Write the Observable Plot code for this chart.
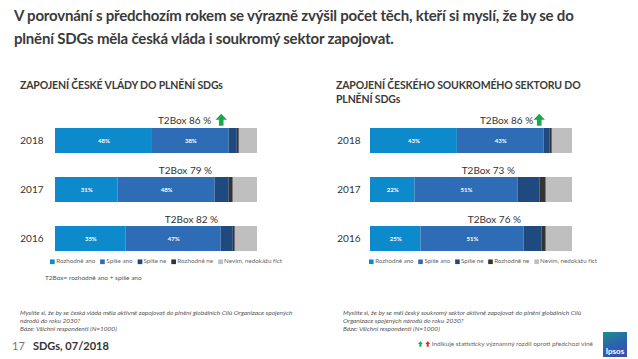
<!DOCTYPE html>
<html>
<head>
<meta charset="utf-8">
<script src="https://cdn.jsdelivr.net/npm/d3@7"></script>
<script src="https://cdn.jsdelivr.net/npm/@observablehq/plot@0.6"></script>
<style>
  html, body { margin: 0; padding: 0; background: #fff; }
  #root { position: relative; width: 638px; height: 359px; overflow: hidden; font-family: Lato, "Open Sans", sans-serif; color: #333; }
  .abs { position: absolute; white-space: nowrap; }
  .title { left: 14px; top: 4px; font-size: 15px; font-weight: bold; line-height: 23px; color: #3a3a3a; letter-spacing: -0.2px; }
  .sec { font-size: 10.5px; font-weight: bold; line-height: 14px; color: #3a3a3a; letter-spacing: -0.15px; }
  .legend { font-size: 8px; color: #666; display: flex; gap: 6px; align-items: center; transform-origin: 0 50%; }
  .legend span.sw { display: inline-block; width: 6px; height: 6px; margin-right: 2px; vertical-align: middle; }
  .note { font-size: 6.5px; font-style: italic; color: #555; line-height: 8.2px; }
</style>
</head>
<body>
<div id="root"></div>
<script>
const years = ["2018", "2017", "2016"];
const categories = ["Rozhodně ano", "Spíše ano", "Spíše ne", "Rozhodně ne", "Nevím, nedokážu říct"];
const colors = ["#0d8acb", "#2e6cb5", "#1f4a80", "#333333", "#bfbfbf"];

// Czech government engagement (rows = years)
const govValues = [
  [48, 38, 4, 1, 9],
  [31, 48, 7, 2, 12],
  [35, 47, 6, 1, 11]
];
const govT2 = [86, 79, 82];
const govUp = [true, false, false];

// Czech private sector engagement
const privValues = [
  [43, 43, 3, 1, 10],
  [22, 51, 11, 3, 13],
  [25, 51, 9, 2, 13]
];
const privT2 = [86, 73, 76];
const privUp = [true, false, false];

const root = document.getElementById("root");
function addDiv(cls, left, top, html) {
  const d = document.createElement("div");
  d.className = "abs " + cls;
  d.style.left = left + "px";
  d.style.top = top + "px";
  d.innerHTML = html;
  root.appendChild(d);
  return d;
}
function fitWidth(d, w) {
  const cur = d.getBoundingClientRect().width;
  if (cur > 0) d.style.transform = `scale(${w / cur})`;
}

addDiv("title", 14, 4, "V porovnání s předchozím rokem se výrazně zvýšil počet těch, kteří si myslí, že by se do<br>plnění SDGs měla česká vláda i soukromý sektor zapojovat.");
addDiv("sec", 20, 78, "ZAPOJENÍ ČESKÉ VLÁDY DO PLNĚNÍ SDGs");
addDiv("sec", 336, 78, "ZAPOJENÍ ČESKÉHO SOUKROMÉHO SEKTORU DO<br>PLNĚNÍ SDGs");

const arrowSymbol = {
  draw(ctx, size) {
    const s = Math.sqrt(size);
    ctx.moveTo(0, -0.55 * s);
    ctx.lineTo(0.5 * s, -0.02 * s);
    ctx.lineTo(0.2 * s, -0.02 * s);
    ctx.lineTo(0.2 * s, 0.5 * s);
    ctx.lineTo(-0.2 * s, 0.5 * s);
    ctx.lineTo(-0.2 * s, -0.02 * s);
    ctx.lineTo(-0.5 * s, -0.02 * s);
    ctx.closePath();
  }
};

function makeChart(values, t2, up, opts) {
  const data = years.flatMap((y, i) => categories.map((c, j) => ({year: y, cat: c, idx: j, value: values[i][j]})));
  const t2data = years.map((y, i) => ({year: y, t2: t2[i], up: up[i]}));
  return Plot.plot({
    width: 300,
    height: 176,
    marginLeft: opts.marginLeft,
    marginRight: 300 - opts.marginLeft - 202,
    marginTop: 3,
    marginBottom: 0,
    style: {background: "transparent", overflow: "visible", fontFamily: "Lato, 'Open Sans', sans-serif"},
    x: {domain: [0, 100], axis: null},
    y: {domain: years, padding: 0.5, label: null, tickSize: 0, tickPadding: opts.tickPadding, fontSize: 11},
    color: {domain: categories, range: colors},
    marks: [
      Plot.barX(data, {x: "value", y: "year", fill: "cat"}),
      Plot.text(data, Plot.stackX({x: "value", y: "year", z: "cat", text: d => d.idx < 2 ? d.value + "%" : "", fill: "white", fontSize: 6, fontWeight: "bold"})),
      Plot.text(t2data.filter(d => !d.up), {x: "t2", y: "year", text: d => "T2Box " + d.t2 + " %", textAnchor: "end", dx: -3, dy: -19, fontSize: 10, fill: "#333"}),
      Plot.text(t2data.filter(d => d.up), {x: "t2", y: "year", text: d => "T2Box " + d.t2 + " %", textAnchor: "end", dx: opts.textDxUp, dy: -20, fontSize: 10, fill: "#333"}),
      Plot.dot(t2data.filter(d => d.up), {x: "t2", y: "year", symbol: arrowSymbol, r: 6.5, fill: "#1ea64b", stroke: "none", dx: opts.arrowDx, dy: -21})
    ]
  });
}

const left = makeChart(govValues, govT2, govUp, {marginLeft: 55, tickPadding: 12, textDxUp: -18, arrowDx: -8});
left.style.position = "absolute"; left.style.left = "0px"; left.style.top = "100px";
root.appendChild(left);

const right = makeChart(privValues, privT2, privUp, {marginLeft: 50, tickPadding: 10, textDxUp: -11, arrowDx: -5});
right.style.position = "absolute"; right.style.left = "320px"; right.style.top = "100px";
root.appendChild(right);

function legendHtml() {
  return categories.map((c, i) => `<span><span class="sw" style="background:${colors[i]}"></span>${c}</span>`).join("");
}
fitWidth(addDiv("legend", 50, 256, legendHtml()), 232);
fitWidth(addDiv("legend", 369, 256, legendHtml()), 228);
addDiv("note", 45, 274, "T2Box= rozhodně ano + spíše ano").style.fontStyle = "normal";

addDiv("note", 20, 309, "Myslíte si, že by se česká vláda měla aktivně zapojovat do plnění globálních Cílů Organizace spojených<br>národů do roku 2030?<br>Báze: Všichni respondenti (N=1000)");
addDiv("note", 343, 309, "Myslíte si, že by se měl český soukromý sektor aktivně zapojovat do plnění globálních Cílů<br>Organizace spojených národů do roku 2030?<br>Báze: Všichni respondenti (N=1000)");

addDiv("", 12, 334, '<span style="font-size:11px;color:#777">17</span>&nbsp;&nbsp;<span style="font-size:11px;font-weight:bold;color:#333">SDGs, 07/2018</span>');

const arr = (c) => `<svg width="6" height="8" viewBox="-6 -7 12 14" style="vertical-align:middle"><path d="M0,-7L6,0L2.5,0L2.5,7L-2.5,7L-2.5,0L-6,0Z" fill="${c}"/></svg>`;
const al = addDiv("legend", 418, 339, `${arr("#1ea64b")}${arr("#e3262d")}<span style="margin-left:-1px">Indikuje statisticky významný rozdíl oproti předchozí vlně</span>`);
al.style.gap = "3px";
fitWidth(al, 175);

addDiv("", 603, 332, '<div style="width:24px;height:25px;background:linear-gradient(160deg,#1b8f8f 0%,#2d5fb0 55%,#3a4fa8 100%);color:#fff;font-size:8px;font-weight:bold;display:flex;align-items:flex-end;justify-content:center;padding-bottom:1px;box-sizing:border-box;font-family:Lato,sans-serif">Ipsos</div>');
</script>
</body>
</html>
